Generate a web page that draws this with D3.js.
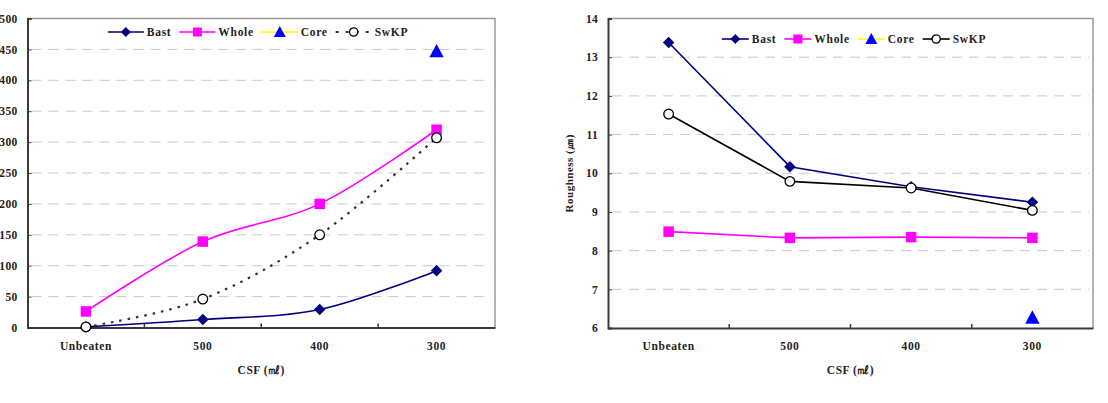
<!DOCTYPE html>
<html><head><meta charset="utf-8">
<script src="https://cdn.jsdelivr.net/npm/d3@7"></script>
<style>
body{margin:0;background:#fff;}
svg text{font-family:"Liberation Serif","DejaVu Serif",serif !important;font-weight:bold;fill:#222;}
</style></head>
<body><svg id="c" width="1108" height="403"></svg>
<script>
const categories = ["Unbeaten", "500", "400", "300"];
const seriesNames = ["Bast", "Whole", "Core", "SwKP"];
// Left chart (values)
const leftBast  = [1, 13, 29, 92];
const leftWhole = [26, 139, 200, 320];
const leftCore  = [null, null, null, 447];
const leftSwKP  = [1, 46, 150, 307];
const leftTicks = [0, 50, 100, 150, 200, 250, 300, 350, 400, 450, 500];
// Right chart (roughness)
const rightBast  = [13.38, 10.17, 9.65, 9.25];
const rightWhole = [8.49, 8.33, 8.35, 8.33];
const rightCore  = [null, null, null, 6.27];
const rightSwKP  = [11.53, 9.79, 9.62, 9.04];
const rightTicks = [6, 7, 8, 9, 10, 11, 12, 13, 14];
const xTitle = "CSF (㎖)";
const yTitleRight = "Roughness (㎛)";

const colors = {Bast:"#000080", Whole:"#FF00FF", CoreLine:"#FFFF00", Core:"#0000FF", SwKP:"#000"};
const FONT = '"Liberation Serif", "DejaVu Serif", serif';

const svg = d3.select("#c");

function marker(g, name, x, y, s) {
  if (name === "Bast") {
    const k = s*0.55;
    g.append("path").attr("d", `M${x},${y-k}L${x+k},${y}L${x},${y+k}L${x-k},${y}Z`).attr("fill", colors.Bast);
  } else if (name === "Whole") {
    const k = s*0.5;
    g.append("rect").attr("x", x-k).attr("y", y-k).attr("width", 2*k).attr("height", 2*k).attr("fill", colors.Whole);
  } else if (name === "Core") {
    const k = s*0.6;
    g.append("path").attr("d", `M${x},${y-k}L${x+k},${y+k*0.85}L${x-k},${y+k*0.85}Z`).attr("fill", colors.Core);
  } else {
    g.append("circle").attr("cx", x).attr("cy", y).attr("r", s*0.46).attr("fill", "#fff").attr("stroke", "#000").attr("stroke-width", 1.3);
  }
}

function styleText(sel, size, ls) {
  sel.style("font-family", FONT).style("font-weight", "bold").style("font-size", size + "px")
     .style("letter-spacing", ls + "px").attr("fill", "#222");
}

function chart(o) {
  const g = svg.append("g");
  const x = d3.scaleBand().domain(categories).range([o.x0, o.x1]);
  const y = d3.scaleLinear().domain(o.domain).range([o.y1, o.y0]);
  g.selectAll(".grid").data(o.ticks.filter(t => t !== o.domain[0] && t !== o.domain[1])).enter()
    .append("line").attr("x1", o.x0 + 4).attr("x2", o.x1 - 4)
    .attr("y1", d => y(d)).attr("y2", d => y(d))
    .attr("stroke", "#c8c8c8").attr("stroke-width", 1).attr("stroke-dasharray", "10,7");
  g.append("path").attr("d", `M${o.x0},${o.y0}H${o.x1}V${o.y1}`).attr("fill", "none").attr("stroke", "#9a9a9a").attr("stroke-width", 1.5);
  const ya = d3.axisLeft(y).tickValues(o.ticks).tickSize(-4).tickPadding(10).tickFormat(d3.format("d"));
  const yg = g.append("g").attr("transform", `translate(${o.x0},0)`).call(ya).attr("font-family", FONT);
  yg.select(".domain").attr("stroke", "#3a3a3a").attr("stroke-width", 2);
  yg.selectAll(".tick line").attr("stroke", "#3a3a3a");
  styleText(yg.selectAll("text"), 11.5, 0.3);
  const xa = d3.axisBottom(x).tickSize(0).tickPadding(14);
  const xg = g.append("g").attr("transform", `translate(0,${o.y1})`).call(xa).attr("font-family", FONT);
  xg.select(".domain").attr("stroke", "#3a3a3a").attr("stroke-width", 2);
  styleText(xg.selectAll("text"), 11.5, 0.6);
  g.selectAll(".bt").data(categories.slice(1)).enter().append("line")
    .attr("x1", d => x(d)).attr("x2", d => x(d)).attr("y1", o.y1).attr("y2", o.y1 - 4)
    .attr("stroke", "#3a3a3a").attr("stroke-width", 1.5);
  styleText(g.append("text").attr("x", (o.x0 + o.x1) / 2).attr("y", o.y1 + 46).attr("text-anchor", "middle").text(xTitle), 11.5, 0.5);
  if (o.yTitle) {
    styleText(g.append("text").attr("transform", `translate(${o.yTitleX},${(o.y0 + o.y1) / 2}) rotate(-90)`)
      .attr("text-anchor", "middle").text(o.yTitle), 11, 0.5);
  }
  const cx = d => x(d) + x.bandwidth() / 2;
  const curve = o.smooth ? d3.curveCardinal.tension(0) : d3.curveLinear;
  o.series.forEach(s => {
    if (s.name === "Core") return;
    const pts = s.values.map((v, i) => [cx(categories[i]), v]).filter(p => p[1] != null);
    const line = d3.line().x(p => p[0]).y(p => y(p[1])).curve(curve);
    g.append("path").attr("d", line(pts)).attr("fill", "none")
      .attr("stroke", s.dotted ? "#333" : colors[s.name]).attr("stroke-width", s.dotted ? 2.2 : 1.6)
      .attr("stroke-dasharray", s.dotted ? "2.5,6" : null);
  });
  o.series.forEach(s => {
    s.values.forEach((v, i) => {
      if (v == null) return;
      marker(g, s.name, cx(categories[i]), y(v), s.name === "Core" ? 12 : 10.5);
    });
  });
  const lg = g.append("g");
  let cur = 0;
  o.series.forEach(s => {
    const it = lg.append("g").attr("transform", `translate(${cur},0)`);
    const lineCol = s.name === "Core" ? colors.CoreLine : (s.dotted ? "#333" : colors[s.name]);
    it.append("line").attr("x1", 0).attr("x2", o.legLine).attr("y1", 0).attr("y2", 0)
      .attr("stroke", lineCol).attr("stroke-width", s.dotted ? 2.2 : 1.6)
      .attr("stroke-dasharray", s.dotted ? "3,7" : null);
    marker(it, s.name, o.legLine / 2, 0, s.name === "Core" ? 10 : 9);
    const t = it.append("text").attr("x", o.legLine + 3).attr("y", 4).text(s.name);
    styleText(t, 11.5, 0.7);
    cur += o.legLine + 3 + t.node().getComputedTextLength() + 8;
  });
  lg.attr("transform", `translate(${o.legCx - (cur - 8) / 2},${o.legY})`);
}

chart({
  x0: 27.5, x1: 495, y0: 18.5, y1: 327.5, domain: [0, 500], ticks: leftTicks, smooth: true,
  series: [{name:"Bast", values:leftBast}, {name:"Whole", values:leftWhole},
           {name:"Core", values:leftCore}, {name:"SwKP", values:leftSwKP, dotted:true}],
  legLine: 36, legCx: 258, legY: 32
});
chart({
  x0: 608, x1: 1093, y0: 18.5, y1: 328, domain: [6, 14], ticks: rightTicks, smooth: false,
  series: [{name:"Bast", values:rightBast}, {name:"Whole", values:rightWhole},
           {name:"Core", values:rightCore}, {name:"SwKP", values:rightSwKP}],
  legLine: 27, legCx: 854, legY: 39, yTitle: yTitleRight, yTitleX: 573
});
</script></body></html>
